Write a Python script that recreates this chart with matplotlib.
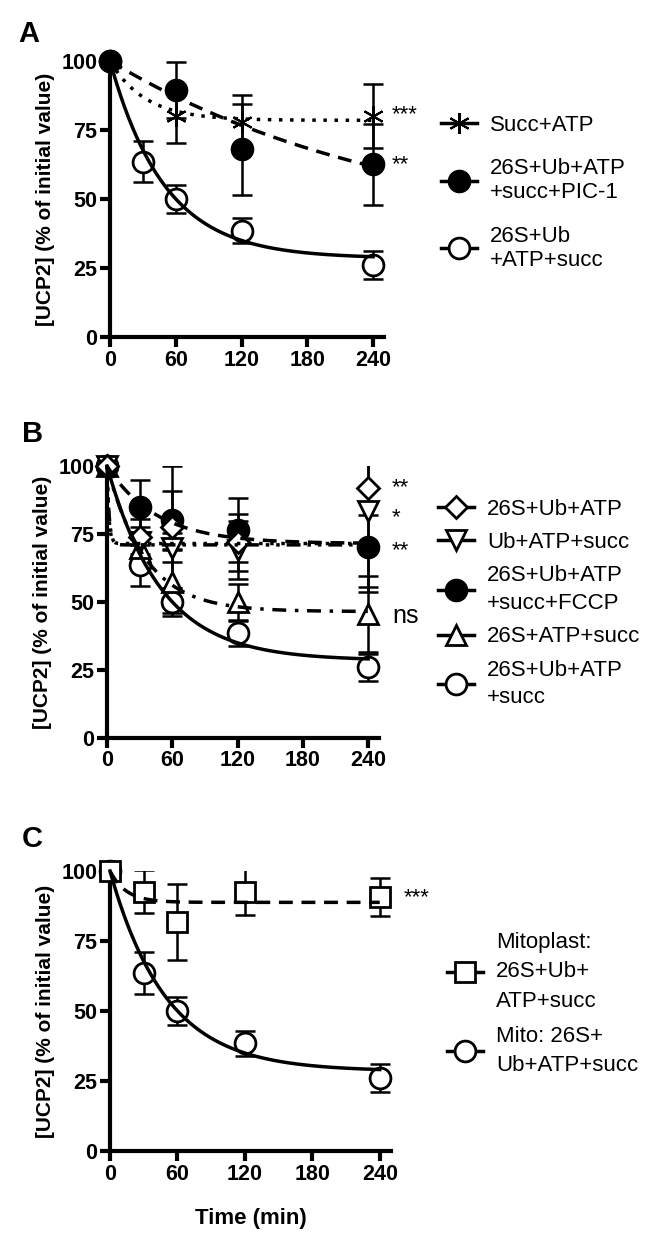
import numpy as np
import matplotlib.pyplot as plt
from matplotlib.lines import Line2D

plt.rcParams['font.family'] = ['Liberation Sans', 'DejaVu Sans']

# time points (min)
t = [0, 30, 60, 120, 240]
t_a = [0, 60, 120, 240]

# 26S+Ub+ATP+succ (open circles, same in all panels)
ctrl_y = [100, 63.5, 50, 38.5, 26]
ctrl_err = [0, 7.5, 5, 4.5, 5]
ctrl_fit = (28.5, 0.020)  # plateau, rate constant of the one-phase decay fit

# panel A
succ_y = [100, 80, 78, 80]
succ_err = [0, 9.8, 9.7, 11.7]
succ_fit = (78.5, 0.031)
pic_y = [100, 89.5, 68, 62.5]
pic_err = [0, 10, 16.5, 14.7]
pic_fit = (35, 0.0037)

# panel B
diam_y = [100, 74, 77.5, 72, 92]
diam_err = [0, 6.5, 22.5, 10.5, 10]
diam_fit = (71.5, 0.6)
vtri_y = [100, 72, 70, 69, 83.5]
vtri_err = [0, 5.7, 5.4, 10.6, 28]
vtri_fit = (71, 0.5)
fccp_y = [100, 85, 80.2, 76.5, 70.2]
fccp_err = [0, 10, 10.7, 11.9, 16.4]
fccp_fit = (71.5, 0.022)
tri_y = [100, 70, 57.5, 50, 45.5]
tri_err = [0, 5, 11.5, 6.6, 14]
tri_fit = (46.5, 0.0285)

# panel C
mp_y = [100, 92.6, 81.9, 92.6, 90.8]
mp_err = [0, 7.6, 13.6, 8.3, 6.8]
mp_fit = (88.8, 0.07)

xticks = [0, 60, 120, 180, 240]
yticks = [0, 25, 50, 75, 100]

star = (6, 2, 0)


def series(ax, x, y, err, fit, marker, ms, fc, ls, mew=2):
    ax.errorbar(x, y, yerr=err, fmt='none', ecolor='k', elinewidth=1.8,
                capsize=7.5, capthick=1.8, zorder=2)
    ax.plot(x, y, ls='none', marker=marker, ms=ms, mfc=fc, mec='k', mew=mew,
            clip_on=False, zorder=3)
    tt = np.linspace(0, 240, 400)
    ax.plot(tt, fit[0] + (100 - fit[0]) * np.exp(-fit[1] * tt), color='k',
            lw=2.5, ls=ls, clip_on=False, zorder=4)


def handle(marker, ms, fc, mew=2):
    return Line2D([0], [0], color='k', lw=2.5, marker=marker, ms=ms,
                  mfc=fc, mec='k', mew=mew)


def style(ax):
    ax.set_xlim(0, 250)
    ax.set_ylim(0, 100)
    ax.set_xticks(xticks)
    ax.set_yticks(yticks)
    for s in ['top', 'right']:
        ax.spines[s].set_visible(False)
    for s in ['left', 'bottom']:
        ax.spines[s].set_linewidth(3)
    ax.tick_params(width=3, length=7, labelsize=15.5, pad=2)
    for lab in ax.get_xticklabels() + ax.get_yticklabels():
        lab.set_fontweight('bold')
    ax.set_ylabel('[UCP2] (% of initial value)', fontsize=15,
                  fontweight='bold', labelpad=5)


def fix_legend(leg, spacing):
    for txt in leg.get_texts():
        txt.set_multialignment('left')
        txt.set_linespacing(spacing)


W, H = 662, 1241
fig = plt.figure(figsize=(W / 100, H / 100), dpi=100)
axA = fig.add_axes([110 / W, 1 - 337 / H, 274 / W, 276 / H])
axB = fig.add_axes([107 / W, 1 - 738 / H, 272 / W, 272 / H])
axC = fig.add_axes([110 / W, 1 - 1151 / H, 281 / W, 280 / H])

dash = (0, (4, 2.5))
dot = (0, (1, 2.2))
dashdot = (0, (4, 2.5, 1, 2.5))
dashdotdot = (0, (4, 2, 1, 2, 1, 2))

# A
series(axA, t, ctrl_y, ctrl_err, ctrl_fit, 'o', 15, 'white', '-')
series(axA, t_a, succ_y, succ_err, succ_fit, star, 15, 'k', dot, mew=1.5)
series(axA, t_a, pic_y, pic_err, pic_fit, 'o', 15, 'k', dash)
style(axA)
legA = axA.legend([handle(star, 15, 'k', 1.5), handle('o', 15, 'k'), handle('o', 15, 'white')],
                  ['Succ+ATP', '26S+Ub+ATP\n+succ+PIC-1', '26S+Ub\n+ATP+succ'],
                  loc='upper left', bbox_to_anchor=(441 / W, 1 - 115 / H),
                  bbox_transform=fig.transFigure, frameon=False, fontsize=16,
                  borderpad=0, borderaxespad=0, handlelength=1.6,
                  handletextpad=0.6, labelspacing=1.0)
fix_legend(legA, 1.2)
axA.text(257, 80.4, '***', fontsize=16, va='center', ha='left', clip_on=False)
axA.text(257, 62.5, '**', fontsize=16, va='center', ha='left', clip_on=False)

# B
series(axB, t, ctrl_y, ctrl_err, ctrl_fit, 'o', 15, 'white', '-')
series(axB, t, tri_y, tri_err, tri_fit, '^', 14, 'white', dashdot)
series(axB, t, fccp_y, fccp_err, fccp_fit, 'o', 15, 'k', dash)
series(axB, t, vtri_y, vtri_err, vtri_fit, 'v', 14, 'white', dashdotdot)
series(axB, t, diam_y, diam_err, diam_fit, 'D', 11, 'white', dot)
style(axB)
legB = axB.legend([handle('D', 11, 'white'), handle('v', 14, 'white'), handle('o', 15, 'k'),
                   handle('^', 14, 'white'), handle('o', 15, 'white')],
                  ['26S+Ub+ATP', 'Ub+ATP+succ', '26S+Ub+ATP\n+succ+FCCP',
                   '26S+ATP+succ', '26S+Ub+ATP\n+succ'],
                  loc='upper left', bbox_to_anchor=(438 / W, 1 - 499 / H),
                  bbox_transform=fig.transFigure, frameon=False, fontsize=16,
                  borderpad=0, borderaxespad=0, handlelength=1.6,
                  handletextpad=0.6, labelspacing=0.55)
fix_legend(legB, 1.42)
axB.text(262, 92, '**', fontsize=16, va='center', ha='left', clip_on=False)
axB.text(262, 81, '*', fontsize=16, va='center', ha='left', clip_on=False)
axB.text(262, 69, '**', fontsize=16, va='center', ha='left', clip_on=False)
axB.text(262, 45, 'ns', fontsize=18, va='center', ha='left', clip_on=False)

# C
series(axC, t, ctrl_y, ctrl_err, ctrl_fit, 'o', 15, 'white', '-')
series(axC, t, mp_y, mp_err, mp_fit, 's', 14, 'white', dash)
style(axC)
axC.set_xlabel('Time (min)', fontsize=16, fontweight='bold', labelpad=17)
legC = axC.legend([handle('s', 14, 'white'), handle('o', 15, 'white')],
                  ['Mitoplast:\n26S+Ub+\nATP+succ', 'Mito: 26S+\nUb+ATP+succ'],
                  loc='upper left', bbox_to_anchor=(447 / W, 1 - 932 / H),
                  bbox_transform=fig.transFigure, frameon=False, fontsize=16,
                  borderpad=0, borderaxespad=0, handlelength=1.6,
                  handletextpad=0.6, labelspacing=0.65)
fix_legend(legC, 1.52)
axC.text(261, 90.5, '***', fontsize=16, va='center', ha='left', clip_on=False)

fig.text(18 / W, 1 - 42 / H, 'A', fontsize=21, fontweight='bold')
fig.text(22 / W, 1 - 442 / H, 'B', fontsize=21, fontweight='bold')
fig.text(22 / W, 1 - 847 / H, 'C', fontsize=21, fontweight='bold')

fig.savefig('out.png', dpi=100)
